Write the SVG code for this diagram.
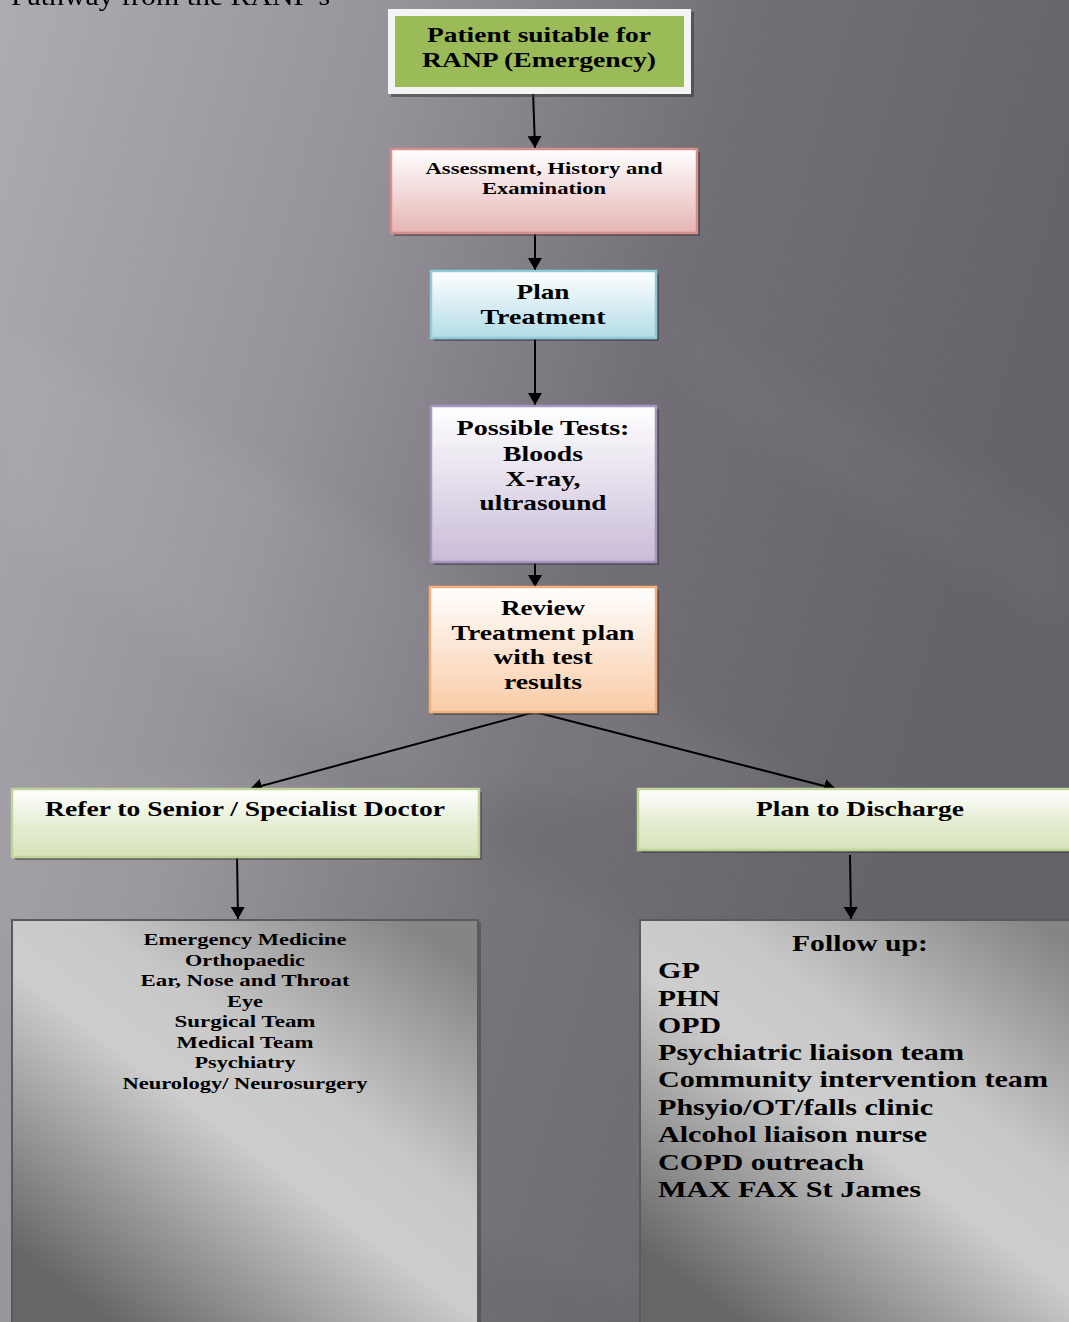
<svg xmlns="http://www.w3.org/2000/svg" width="1069" height="1322" viewBox="0 0 1069 1322">
<defs>
<style>
text{font-family:"Liberation Serif","Times New Roman",serif;font-weight:bold;fill:#000;}
.c{text-anchor:middle;}
.t22{font-size:22px;}
.t17{font-size:17px;}
.t24{font-size:24px;}
.conn{stroke:#000;stroke-width:2;fill:none;marker-end:url(#ah);}
.shadow{fill:#3a383c;opacity:0.55;}
</style>
<marker id="ah" markerUnits="userSpaceOnUse" markerWidth="13" markerHeight="14" refX="12" refY="7" orient="auto">
<path d="M0,0 L12,7 L0,14 z" fill="#000"/>
</marker>
<filter id="soft" x="-20%" y="-20%" width="140%" height="140%">
<feGaussianBlur stdDeviation="18"/>
</filter>
<linearGradient id="bg" x1="0" y1="0" x2="1069" y2="300" gradientUnits="userSpaceOnUse">
<stop offset="0" stop-color="#AEABB1"/>
<stop offset="0.35" stop-color="#96939A"/>
<stop offset="0.65" stop-color="#726F76"/>
<stop offset="1" stop-color="#656369"/>
</linearGradient>
<linearGradient id="gPink" x1="0" y1="0" x2="0" y2="1">
<stop offset="0" stop-color="#FFFFFF"/>
<stop offset="1" stop-color="#E5B5B4"/>
</linearGradient>
<linearGradient id="gBlue" x1="0" y1="0" x2="0" y2="1">
<stop offset="0" stop-color="#FFFFFF"/>
<stop offset="1" stop-color="#B3DCE7"/>
</linearGradient>
<linearGradient id="gPurple" x1="0" y1="0" x2="0" y2="1">
<stop offset="0" stop-color="#FFFFFF"/>
<stop offset="1" stop-color="#C9BCD8"/>
</linearGradient>
<linearGradient id="gOrange" x1="0" y1="0" x2="0" y2="1">
<stop offset="0" stop-color="#FFFFFF"/>
<stop offset="1" stop-color="#F9CBA6"/>
</linearGradient>
<linearGradient id="gGreen" x1="0" y1="0" x2="0" y2="1">
<stop offset="0" stop-color="#FFFFFF"/>
<stop offset="0.55" stop-color="#E4EDD2"/>
<stop offset="1" stop-color="#D6E3BA"/>
</linearGradient>
<linearGradient id="gGrayL" x1="120" y1="1330" x2="420" y2="930" gradientUnits="userSpaceOnUse">
<stop offset="0" stop-color="#666666"/>
<stop offset="0.45" stop-color="#CDCDCD"/>
<stop offset="0.62" stop-color="#C8C8C8"/>
<stop offset="1" stop-color="#858585"/>
</linearGradient>
<linearGradient id="gGrayR" x1="748" y1="1330" x2="1048" y2="930" gradientUnits="userSpaceOnUse">
<stop offset="0" stop-color="#666666"/>
<stop offset="0.45" stop-color="#CDCDCD"/>
<stop offset="0.62" stop-color="#C8C8C8"/>
<stop offset="1" stop-color="#858585"/>
</linearGradient>
</defs>

<!-- background -->
<rect x="0" y="0" width="1069" height="1322" fill="url(#bg)"/>
<g filter="url(#soft)">
<polygon points="0,330 0,520 420,800 820,800 520,620 180,420" fill="#FFFFFF" opacity="0.05"/>
<polygon points="0,780 0,1000 300,1200 700,1322 1069,1322 1069,1250 600,900 300,780" fill="#FFFFFF" opacity="0.04"/>
<polygon points="650,300 1069,520 1069,640 720,420" fill="#FFFFFF" opacity="0.03"/>
</g>

<text x="11" y="5" style="font-weight:normal;font-size:28px" textLength="319" lengthAdjust="spacingAndGlyphs">Pathway from the RANP’s</text>

<g id="connectors">
<line class="conn" x1="533" y1="90" x2="535" y2="148"/>
<line class="conn" x1="535" y1="233" x2="535" y2="270"/>
<line class="conn" x1="535" y1="338" x2="535" y2="405"/>
<line class="conn" x1="535" y1="562" x2="535" y2="587"/>
<line class="conn" x1="535" y1="712" x2="250" y2="789"/>
<line class="conn" x1="535" y1="712" x2="836" y2="789"/>
<line class="conn" x1="237" y1="855" x2="238" y2="919"/>
<line class="conn" x1="850" y1="855" x2="851" y2="919"/>
</g>

<g id="n-patient">
<rect class="shadow" x="391" y="12" width="303" height="85"/>
<rect x="388" y="9" width="303" height="85" fill="#F4F4F4"/>
<rect x="395" y="16" width="289" height="71" fill="#9BBB59"/>
<text class="c t22" x="539" y="42" textLength="224" lengthAdjust="spacingAndGlyphs">Patient suitable for</text>
<text class="c t22" x="539" y="67" textLength="234" lengthAdjust="spacingAndGlyphs">RANP (Emergency)</text>
</g>

<g id="n-assessment">
<rect class="shadow" x="394" y="152" width="306" height="84"/>
<rect x="391" y="149" width="306" height="84" fill="url(#gPink)" stroke="#D48F8D" stroke-width="2.5"/>
<text class="c t17" x="544" y="174" textLength="237" lengthAdjust="spacingAndGlyphs">Assessment, History and</text>
<text class="c t17" x="544" y="194" textLength="124" lengthAdjust="spacingAndGlyphs">Examination</text>
</g>

<g id="n-plan">
<rect class="shadow" x="434" y="274" width="225" height="67"/>
<rect x="431" y="271" width="225" height="67" fill="url(#gBlue)" stroke="#8FCADB" stroke-width="2.5"/>
<text class="c t22" x="543" y="299" textLength="53" lengthAdjust="spacingAndGlyphs">Plan</text>
<text class="c t22" x="543" y="324" textLength="125" lengthAdjust="spacingAndGlyphs">Treatment</text>
</g>

<g id="n-tests">
<rect class="shadow" x="434" y="409" width="225" height="156"/>
<rect x="431" y="406" width="225" height="156" fill="url(#gPurple)" stroke="#A595C0" stroke-width="2.5"/>
<text class="c t22" x="543" y="435" textLength="173" lengthAdjust="spacingAndGlyphs">Possible Tests:</text>
<text class="c t22" x="543" y="461" textLength="80" lengthAdjust="spacingAndGlyphs">Bloods</text>
<text class="c t22" x="543" y="486" textLength="75" lengthAdjust="spacingAndGlyphs">X-ray,</text>
<text class="c t22" x="543" y="510" textLength="127" lengthAdjust="spacingAndGlyphs">ultrasound</text>
</g>

<g id="n-review">
<rect class="shadow" x="433" y="590" width="226" height="125"/>
<rect x="430" y="587" width="226" height="125" fill="url(#gOrange)" stroke="#F5B079" stroke-width="2.5"/>
<text class="c t22" x="543" y="615" textLength="84" lengthAdjust="spacingAndGlyphs">Review</text>
<text class="c t22" x="543" y="640" textLength="183" lengthAdjust="spacingAndGlyphs">Treatment plan</text>
<text class="c t22" x="543" y="664" textLength="99" lengthAdjust="spacingAndGlyphs">with test</text>
<text class="c t22" x="543" y="689" textLength="78" lengthAdjust="spacingAndGlyphs">results</text>
</g>

<g id="n-refer">
<rect class="shadow" x="15" y="792" width="467" height="68"/>
<rect x="12" y="789" width="467" height="68" fill="url(#gGreen)" stroke="#BFD496" stroke-width="2.5"/>
<text class="c t22" x="245" y="816" textLength="400" lengthAdjust="spacingAndGlyphs">Refer to Senior / Specialist Doctor</text>
</g>

<g id="n-discharge">
<rect class="shadow" x="641" y="792" width="440" height="61"/>
<rect x="638" y="789" width="440" height="61" fill="url(#gGreen)" stroke="#BFD496" stroke-width="2.5"/>
<text class="c t22" x="860" y="816" textLength="208" lengthAdjust="spacingAndGlyphs">Plan to Discharge</text>
</g>

<g id="n-specialties">
<rect x="14" y="922" width="467" height="410" fill="#4a484c" opacity="0.6"/>
<rect x="12" y="920" width="466" height="410" fill="url(#gGrayL)" stroke="#5A5A5C" stroke-width="2"/>
<text class="c t17" x="245" y="945" textLength="203" lengthAdjust="spacingAndGlyphs">Emergency Medicine</text>
<text class="c t17" x="245" y="965.5" textLength="120" lengthAdjust="spacingAndGlyphs">Orthopaedic</text>
<text class="c t17" x="245" y="986" textLength="209" lengthAdjust="spacingAndGlyphs">Ear, Nose and Throat</text>
<text class="c t17" x="245" y="1006.5" textLength="36" lengthAdjust="spacingAndGlyphs">Eye</text>
<text class="c t17" x="245" y="1027" textLength="141" lengthAdjust="spacingAndGlyphs">Surgical Team</text>
<text class="c t17" x="245" y="1047.5" textLength="137" lengthAdjust="spacingAndGlyphs">Medical Team</text>
<text class="c t17" x="245" y="1068" textLength="101" lengthAdjust="spacingAndGlyphs">Psychiatry</text>
<text class="c t17" x="245" y="1088.5" textLength="245" lengthAdjust="spacingAndGlyphs">Neurology/ Neurosurgery</text>
</g>

<g id="n-followup">
<rect x="642" y="922" width="440" height="410" fill="#4a484c" opacity="0.6"/>
<rect x="640" y="920" width="440" height="410" fill="url(#gGrayR)" stroke="#5A5A5C" stroke-width="2"/>
<text class="c t24" x="860" y="950.5" textLength="136" lengthAdjust="spacingAndGlyphs">Follow up:</text>
<text class="t24" x="658" y="978" textLength="42" lengthAdjust="spacingAndGlyphs">GP</text>
<text class="t24" x="658" y="1005.5" textLength="62" lengthAdjust="spacingAndGlyphs">PHN</text>
<text class="t24" x="658" y="1033" textLength="63" lengthAdjust="spacingAndGlyphs">OPD</text>
<text class="t24" x="658" y="1060" textLength="306" lengthAdjust="spacingAndGlyphs">Psychiatric liaison team</text>
<text class="t24" x="658" y="1087" textLength="390" lengthAdjust="spacingAndGlyphs">Community intervention team</text>
<text class="t24" x="658" y="1114.5" textLength="275" lengthAdjust="spacingAndGlyphs">Phsyio/OT/falls clinic</text>
<text class="t24" x="658" y="1142" textLength="269" lengthAdjust="spacingAndGlyphs">Alcohol liaison nurse</text>
<text class="t24" x="658" y="1169.5" textLength="206" lengthAdjust="spacingAndGlyphs">COPD outreach</text>
<text class="t24" x="658" y="1197" textLength="263" lengthAdjust="spacingAndGlyphs">MAX FAX St James</text>
</g>
</svg>
